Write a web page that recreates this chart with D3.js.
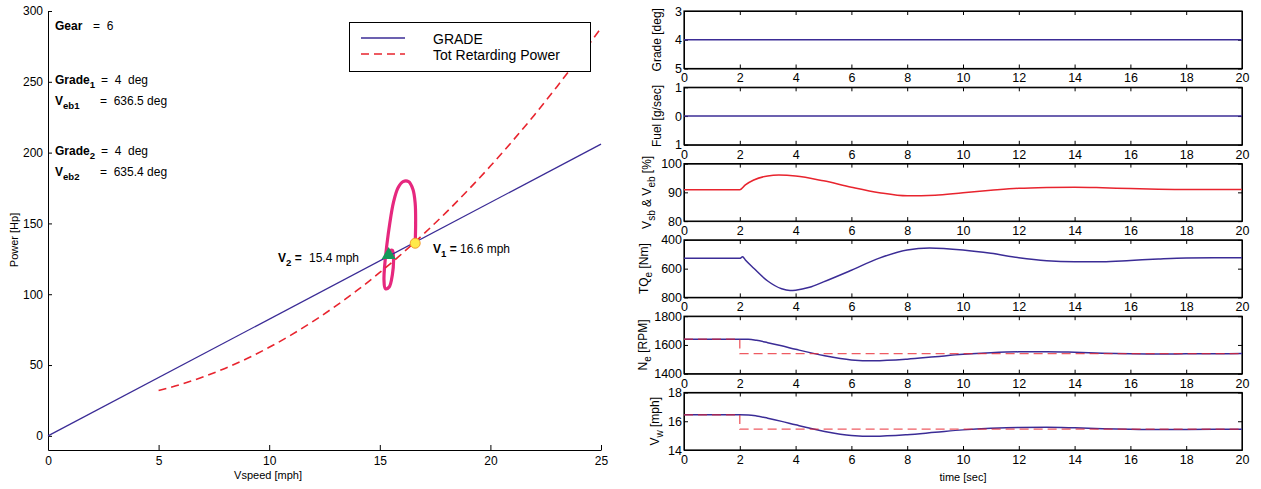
<!DOCTYPE html>
<html lang="en">
<head>
<meta charset="utf-8">
<title>grade_retard</title>
<script src="https://cdn.jsdelivr.net/npm/d3@7"></script>
<style>
  body { margin: 0; background: #fff; }
  svg { font-family: "Liberation Sans", Arial, sans-serif; }
  .axis path, .axis line { stroke: #000; }
  .axis text { font-size: 12px; fill: #000; font-family: "Liberation Sans", Arial, sans-serif; }
  .ann { white-space: pre; }
</style>
</head>
<body>
<script>
// ---- left plot data ----
var gradeSpeed = [0, 25];
var gradePower = [0, 206];
var retardSpeed = [5, 6, 7, 8, 9, 10, 11, 12, 13, 14, 15, 16, 17, 18, 19, 20, 21, 22, 23, 24, 25];
var retardPower = [32.0, 36.3, 41.5, 47.6, 54.6, 62.5, 71.3, 81.0, 91.6, 103.0, 115.4, 128.6, 142.8, 157.8, 173.7, 190.5, 208.2, 226.8, 246.4, 266.8, 288.0];
// transient trajectory in (speed, power)
var loopSpeed = [16.6, 16.62, 16.6, 16.5, 16.3, 16.05, 15.82, 15.62, 15.45, 15.32, 15.22, 15.19, 15.25, 15.42, 15.57, 15.62, 15.57, 15.47, 15.4];
var loopPower = [136, 150, 164, 174, 179.5, 179.5, 175, 165, 150, 135, 120, 110, 104, 105, 114, 125, 131, 130.5, 127];
var v1 = [16.6, 136];
var v2 = [15.4, 127];
var xTicksLeft = [0, 5, 10, 15, 20, 25];
var yTicksLeft = [0, 50, 100, 150, 200, 250, 300];

// ---- right plot data ----
var xTicksRight = [0, 2, 4, 6, 8, 10, 12, 14, 16, 18, 20];
var gradeT = [0, 20], gradeV = [4, 4];
var fuelT = [0, 20], fuelV = [0, 0];
var vsbT = [0, 2, 2.2, 2.5, 3, 3.4, 4, 5, 6, 7, 8, 9, 10, 11, 12, 13, 14, 15, 16, 17, 18, 19, 20];
var vsbV = [90.9, 90.9, 92.6, 94.3, 95.7, 96.0, 95.7, 94.0, 91.8, 89.9, 88.8, 89.0, 89.9, 90.7, 91.4, 91.7, 91.8, 91.6, 91.3, 91.1, 91.0, 91.0, 91.0];
var tqT = [0, 2, 2.1, 2.2, 2.5, 3, 3.5, 3.8, 4, 4.5, 5, 6, 7, 8, 8.8, 10, 11, 12, 13, 14, 15, 16, 17, 18, 19, 20];
var tqV = [528, 528, 518, 540, 597, 686, 740, 752, 750, 730, 692, 611, 527, 470, 456, 470, 493, 524, 545, 552, 552, 543, 533, 526, 525, 525];
var neT = [0, 2, 2.3, 2.6, 3, 3.5, 4, 5, 6, 6.8, 8, 9, 10, 11, 12, 13, 14, 15, 16, 17, 18, 19, 20];
var neV = [1640, 1640, 1639, 1632, 1616, 1594, 1570, 1526, 1496, 1490, 1501, 1518, 1535, 1546, 1552, 1553, 1549, 1543, 1539, 1537, 1538, 1539, 1540];
var neRefT = [0, 2, 2, 20];
var neRefV = [1640, 1640, 1540, 1540];
var vwT = neT;
var vwV = [16.45, 16.45, 16.44, 16.37, 16.21, 15.99, 15.75, 15.31, 15.01, 14.95, 15.06, 15.23, 15.40, 15.51, 15.57, 15.58, 15.54, 15.48, 15.44, 15.42, 15.43, 15.44, 15.45];
var vwRefT = [0, 2, 2, 20];
var vwRefV = [16.45, 16.45, 15.45, 15.45];

var BLUE = "#3b2c96", RED = "#e8242e", MAGENTA = "#e6287e";

var panels = [
  { label: [["Grade [deg]", 0]], lx: 661, domain: [3, 5], ticks: [3, 4, 5], fmt: d => d,
    lines: [{ t: gradeT, v: gradeV, c: BLUE }] },
  { label: [["Fuel [g/sec]", 0]], lx: 661, domain: [1, -1], ticks: [-1, 0, 1], fmt: d => Math.abs(d),
    lines: [{ t: fuelT, v: fuelV, c: BLUE }] },
  { label: [["V", 0], ["sb", 1], [" & V", 0], ["eb", 1], [" [%]", 0]], lx: 651, domain: [100, 80], ticks: [80, 90, 100], fmt: d => d,
    lines: [{ t: vsbT, v: vsbV, c: RED }] },
  { label: [["TQ", 0], ["e", 1], [" [Nm]", 0]], lx: 648, domain: [400, 800], ticks: [400, 600, 800], fmt: d => d,
    lines: [{ t: tqT, v: tqV, c: BLUE }] },
  { label: [["N", 0], ["e", 1], [" [RPM]", 0]], lx: 647, domain: [1800, 1400], ticks: [1400, 1600, 1800], fmt: d => d,
    lines: [{ t: neT, v: neV, c: BLUE }, { t: neRefT, v: neRefV, c: RED, dash: "9,5" }] },
  { label: [["V", 0], ["w", 1], [" [mph]", 0]], lx: 659, domain: [18, 14], ticks: [14, 16, 18], fmt: d => d,
    lines: [{ t: vwT, v: vwV, c: BLUE }, { t: vwRefT, v: vwRefV, c: RED, dash: "9,5" }] }
];

var svg = d3.select("body").append("svg")
  .attr("width", 1261).attr("height", 489);

// ================= left plot =================
var x = d3.scaleLinear().domain([0, 25]).range([48, 601]);
var y = d3.scaleLinear().domain([-10, 300]).range([450, 11]);

var line = d3.line().x(d => x(d[0])).y(d => y(d[1]));

svg.append("g").attr("class", "axis")
  .attr("transform", "translate(0,450)")
  .call(d3.axisBottom(x).tickValues(xTicksLeft).tickSize(-5).tickSizeOuter(0).tickPadding(6));
svg.append("g").attr("class", "axis")
  .attr("transform", "translate(48,0)")
  .call(d3.axisLeft(y).tickValues(yTicksLeft).tickSize(-4).tickSizeOuter(0).tickPadding(5));

// transient loop
svg.append("path")
  .datum(d3.zip(loopSpeed, loopPower))
  .attr("d", d3.line().x(d => x(d[0])).y(d => y(d[1])).curve(d3.curveCatmullRom.alpha(0.5)))
  .attr("fill", "none").attr("stroke", MAGENTA).attr("stroke-width", 3.2);

svg.append("path")
  .datum(d3.zip(gradeSpeed, gradePower))
  .attr("d", line)
  .attr("fill", "none").attr("stroke", BLUE).attr("stroke-width", 1.3);

svg.append("path")
  .datum(d3.zip(retardSpeed, retardPower))
  .attr("d", line.curve(d3.curveMonotoneX))
  .attr("fill", "none").attr("stroke", RED).attr("stroke-width", 1.6)
  .attr("stroke-dasharray", "8,5");

svg.append("circle")
  .attr("cx", x(v1[0])).attr("cy", y(v1[1])).attr("r", 5)
  .attr("fill", "#ffe94a").attr("stroke", "#f29a2e").attr("stroke-width", 1);
svg.append("path")
  .attr("transform", "translate(" + x(v2[0]) + "," + (y(v2[1]) - 1) + ")")
  .attr("d", d3.symbol(d3.symbolTriangle, 85))
  .attr("fill", "#15985a");

// annotations
function richText(g, xPos, yPos, parts, size) {
  var t = g.append("text").attr("class", "ann").attr("x", xPos).attr("y", yPos).attr("font-size", size);
  parts.forEach(function (p) {
    var s = t.append("tspan").text(p.t);
    if (p.b) s.attr("font-weight", "bold");
    if (p.sub) s.attr("font-size", size * 0.8).attr("dy", 4);
    if (p.up) s.attr("dy", -4);
  });
  return t;
}
var ann = svg.append("g");
richText(ann, 55, 30, [{ t: "Gear", b: 1 }], 12);
richText(ann, 93, 30, [{ t: "=  6" }], 12);
richText(ann, 55, 84, [{ t: "Grade", b: 1 }, { t: "1", b: 1, sub: 1 }], 12);
richText(ann, 101, 84, [{ t: "=  4  deg" }], 12);
richText(ann, 55, 105, [{ t: "V", b: 1 }, { t: "eb1", b: 1, sub: 1 }], 12);
richText(ann, 100, 105, [{ t: "=  636.5 deg" }], 12);
richText(ann, 55, 155, [{ t: "Grade", b: 1 }, { t: "2", b: 1, sub: 1 }], 12);
richText(ann, 101, 155, [{ t: "=  4  deg" }], 12);
richText(ann, 55, 176, [{ t: "V", b: 1 }, { t: "eb2", b: 1, sub: 1 }], 12);
richText(ann, 100, 176, [{ t: "=  635.4 deg" }], 12);
richText(ann, 278, 262, [{ t: "V", b: 1 }, { t: "2", b: 1, sub: 1 }, { t: " = ", b: 1, up: 1 }], 12);
ann.append("text").attr("x", 309).attr("y", 262).attr("font-size", 12).text("15.4 mph");
richText(ann, 433, 253, [{ t: "V", b: 1 }, { t: "1", b: 1, sub: 1 }, { t: " = ", b: 1, up: 1 }], 12);
ann.append("text").attr("x", 460).attr("y", 253).attr("font-size", 12).text("16.6 mph");

// legend
var lg = svg.append("g");
lg.append("rect").attr("x", 349.5).attr("y", 22.5).attr("width", 241).attr("height", 49)
  .attr("fill", "#fff").attr("stroke", "#000").attr("stroke-width", 1);
lg.append("line").attr("x1", 361).attr("x2", 405).attr("y1", 38).attr("y2", 38)
  .attr("stroke", BLUE).attr("stroke-width", 1.3);
lg.append("line").attr("x1", 361).attr("x2", 405).attr("y1", 54).attr("y2", 54)
  .attr("stroke", RED).attr("stroke-width", 1.6).attr("stroke-dasharray", "8,5");
lg.append("text").attr("x", 433).attr("y", 44).attr("font-size", 14).text("GRADE");
lg.append("text").attr("x", 433).attr("y", 60).attr("font-size", 14).text("Tot Retarding Power");

svg.append("text").attr("x", 268).attr("y", 479).attr("text-anchor", "middle")
  .attr("font-size", 11).text("Vspeed [mph]");
svg.append("text").attr("transform", "translate(18,240) rotate(-90)")
  .attr("text-anchor", "middle").attr("font-size", 11).text("Power [Hp]");

// ================= right plots =================
var xr = d3.scaleLinear().domain([0, 20]).range([684, 1242]);
var panelH = 57.5, step = 76.3, top0 = 11;

panels.forEach(function (p, i) {
  var top = top0 + i * step, bot = top + panelH;
  var yr = d3.scaleLinear().domain(p.domain).range([top, bot]);
  var g = svg.append("g");

  g.append("rect").attr("x", 684).attr("y", top).attr("width", 1242 - 684).attr("height", panelH)
    .attr("fill", "none").attr("stroke", "#000").attr("stroke-width", 1.2);

  g.append("g").attr("class", "axis").attr("transform", "translate(0," + bot + ")")
    .call(d3.axisBottom(xr).tickValues(xTicksRight).tickSize(-4).tickSizeOuter(0).tickPadding(5));
  g.append("g").attr("class", "axis").attr("transform", "translate(0," + top + ")")
    .call(d3.axisTop(xr).tickValues(xTicksRight).tickSize(-4).tickSizeOuter(0).tickFormat(""));
  g.append("g").attr("class", "axis").attr("transform", "translate(684,0)")
    .call(d3.axisLeft(yr).tickValues(p.ticks).tickSize(-4).tickSizeOuter(0).tickPadding(2).tickFormat(p.fmt));
  g.append("g").attr("class", "axis").attr("transform", "translate(1242,0)")
    .call(d3.axisRight(yr).tickValues(p.ticks).tickSize(-4).tickSizeOuter(0).tickFormat(""));
  g.selectAll(".axis text").style("font-size", "12.5px");

  p.lines.forEach(function (L) {
    var path = g.append("path")
      .datum(d3.zip(L.t, L.v))
      .attr("d", d3.line().x(d => xr(d[0])).y(d => yr(d[1])).curve(L.dash ? d3.curveLinear : d3.curveMonotoneX))
      .attr("fill", "none").attr("stroke", L.c).attr("stroke-width", L.dash ? 1.3 : 1.5);
    if (L.dash) path.attr("stroke-dasharray", L.dash).attr("stroke-opacity", 0.75);
  });

  var lt = g.append("text")
    .attr("transform", "translate(" + p.lx + "," + (top + panelH / 2) + ") rotate(-90)")
    .attr("text-anchor", "middle").attr("font-size", 12);
  p.label.forEach(function (seg, k) {
    var s = lt.append("tspan").text(seg[0]);
    var prevSub = k > 0 && p.label[k - 1][1];
    if (seg[1]) s.attr("font-size", 10).attr("dy", 4);
    else if (prevSub) s.attr("dy", -4);
  });
});

svg.append("text").attr("x", 963).attr("y", 481).attr("text-anchor", "middle")
  .attr("font-size", 11).text("time [sec]");
</script>
</body>
</html>
